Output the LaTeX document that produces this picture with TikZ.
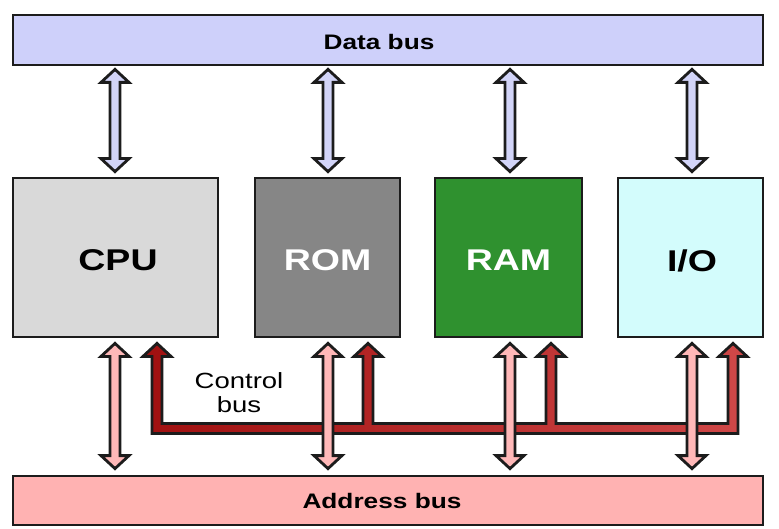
\documentclass[tikz,border=0pt]{standalone}
\usepackage{fontspec}
\setmainfont{Liberation Sans}
\usetikzlibrary{calc}
\definecolor{databus}{HTML}{CED0FA}
\definecolor{dataarrow}{HTML}{D2D4F8}
\definecolor{addrbus}{HTML}{FFB2B2}
\definecolor{addrarrow}{HTML}{FFB8B8}
\definecolor{cpufill}{HTML}{D9D9D9}
\definecolor{romfill}{HTML}{868686}
\definecolor{ramfill}{HTML}{2F912F}
\definecolor{iofill}{HTML}{D3FCFC}
\definecolor{ctrlL}{HTML}{A01010}
\definecolor{ctrlR}{HTML}{D04848}
\definecolor{edge}{HTML}{1C1C1C}
\tikzset{
  bus/.style={draw=edge, line width=2.8pt, minimum width=750pt, inner sep=0pt,
    font=\bfseries\fontsize{21}{24}\selectfont},
  unit/.style={draw=edge, line width=2.8pt, minimum height=159pt, inner sep=0pt,
    font=\bfseries\fontsize{30}{34}\selectfont, text depth=0pt},
  arrowline/.style={draw=edge, line width=2.8pt, line join=miter},
  ctrlline/.style={draw=edge, line width=2.8pt, line join=miter, left color=ctrlL, right color=ctrlR},
  lbl/.style={inner sep=0pt, font=\fontsize{22}{24}\selectfont, align=center}
}
\newcommand\fatdbl[3]{%
  \path[arrowline, fill=#3] let \p1=#1, \p2=#2 in
   (\x1,\y1) -- (\x1+14pt,\y1-13pt) -- (\x1+5pt,\y1-13pt) -- (\x1+5pt,\y2+13pt)
   -- (\x1+14pt,\y2+13pt) -- (\x1,\y2) -- (\x1-14pt,\y2+13pt) -- (\x1-5pt,\y2+13pt)
   -- (\x1-5pt,\y1-13pt) -- (\x1-14pt,\y1-13pt) -- cycle;}
\begin{document}
\begin{tikzpicture}[x=1pt,y=-1pt]
\useasboundingbox (0,0) rectangle (779,529);
% buses
\node[bus, fill=databus, minimum height=50pt] (data) at (388,40) {};
\node[inner sep=0pt, font=\bfseries\fontsize{21}{24}\selectfont] (datatxt) at (379,42) {\scalebox{1.25}[1]{Data bus}};
\node[bus, fill=addrbus, minimum height=49pt] (addr) at (388,500.5) {};
\node[inner sep=0pt, font=\bfseries\fontsize{21}{24}\selectfont] (addrtxt) at (382,501) {\scalebox{1.25}[1]{Address bus}};
% units
\node[unit, fill=cpufill, minimum width=205pt] (cpu) at (115.5,257.5) {};
\node[unit, fill=romfill, minimum width=145pt] (rom) at (327.5,257.5) {};
\node[unit, fill=ramfill, minimum width=147pt] (ram) at (508.5,257.5) {};
\node[unit, fill=iofill, minimum width=145pt] (io) at (690.5,257.5) {};
\node[font=\bfseries\fontsize{30}{34}\selectfont, inner sep=0pt] (cputxt) at ($(cpu.center)+(2.5,3)$) {\scalebox{1.25}[1]{CPU}};
\node[font=\bfseries\fontsize{30}{34}\selectfont, inner sep=0pt, text=white] (romtxt) at ($(rom.center)+(0,3)$) {\scalebox{1.25}[1]{ROM}};
\node[font=\bfseries\fontsize{30}{34}\selectfont, inner sep=0pt, text=white] (ramtxt) at ($(ram.center)+(0,3)$) {\scalebox{1.25}[1]{RAM}};
\node[font=\bfseries\fontsize{30}{34}\selectfont, inner sep=0pt] (iotxt) at ($(io.center)+(1.5,3)$) {\scalebox{1.25}[1]{I/O}};
% data arrows
\foreach \u/\dx in {cpu/-0.5, rom/0.5, ram/1.5, io/1.5}{
  \fatdbl{($(\u.north|-data.south)+(\dx,3)$)}{($(\u.north)+(\dx,-5)$)}{dataarrow}
}
% control bus
\path[ctrlline] let \p1=($(cpu.south)+(41.5,5)$), \p2=($(rom.south)+(40.5,5)$),
   \p3=($(ram.south)+(42.5,5)$), \p4=($(io.south)+(42.5,5)$), \p5=($(cpu.south)+(0,90)$) in
  (\x1-5pt,\y1-13pt) -- (\x1-14pt,\y1-13pt) -- (\x1,\y1) -- (\x1+14pt,\y1-13pt) -- (\x1+5pt,\y1-13pt)
  -- (\x1+5pt,\y5+5pt) -- (\x2-5pt,\y5+5pt)
  -- (\x2-5pt,\y1-13pt) -- (\x2-14pt,\y1-13pt) -- (\x2,\y1) -- (\x2+14pt,\y1-13pt) -- (\x2+5pt,\y1-13pt)
  -- (\x2+5pt,\y5+5pt) -- (\x3-5pt,\y5+5pt)
  -- (\x3-5pt,\y1-13pt) -- (\x3-14pt,\y1-13pt) -- (\x3,\y1) -- (\x3+14pt,\y1-13pt) -- (\x3+5pt,\y1-13pt)
  -- (\x3+5pt,\y5+5pt) -- (\x4-5pt,\y5+5pt)
  -- (\x4-5pt,\y1-13pt) -- (\x4-14pt,\y1-13pt) -- (\x4,\y1) -- (\x4+14pt,\y1-13pt) -- (\x4+5pt,\y1-13pt)
  -- (\x4+5pt,\y5-5pt) -- (\x1-5pt,\y5-5pt) -- cycle;
% address arrows
\foreach \u/\dx in {cpu/-0.5, rom/0.5, ram/1.5, io/1.5}{
  \fatdbl{($(\u.south)+(\dx,5)$)}{($(\u.south|-addr.north)+(\dx,-6)$)}{addrarrow}
}
\node[lbl] (ctrltxt) at (239,393) {\scalebox{1.25}[1]{Control}\\\scalebox{1.25}[1]{bus}};
\end{tikzpicture}
\end{document}
